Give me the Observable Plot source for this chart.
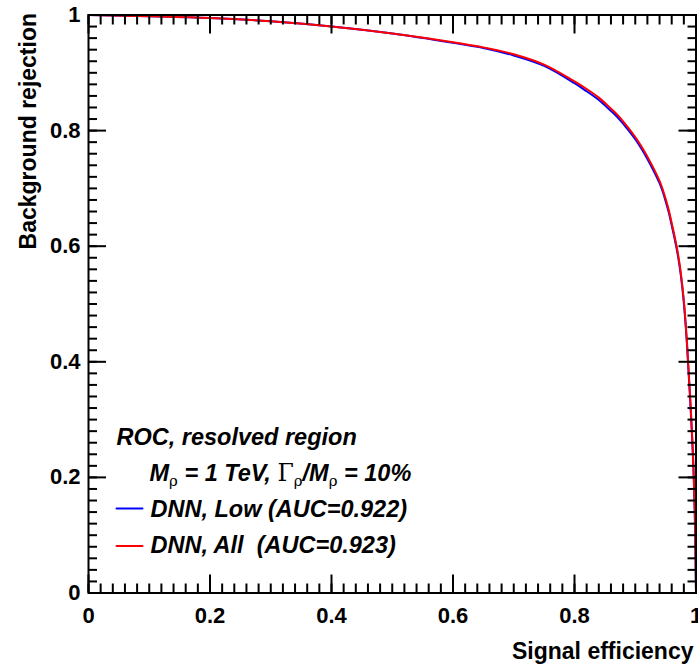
<!DOCTYPE html>
<html>
<head>
<meta charset="utf-8">
<script src="https://cdn.jsdelivr.net/npm/d3@7"></script>
<script src="https://cdn.jsdelivr.net/npm/@observablehq/plot@0.6"></script>
<style>
html, body { margin: 0; padding: 0; background: #ffffff; }
#chart { width: 698px; height: 665px; }
svg text { white-space: pre; }
</style>
</head>
<body>
<div id="chart"></div>
<script>
// ---- data ----
const efficiency   = [0, 0.1, 0.2, 0.3, 0.4, 0.5, 0.6, 0.65, 0.7, 0.75, 0.8, 0.82, 0.84, 0.86, 0.87, 0.88, 0.9, 0.91, 0.92, 0.93, 0.94, 0.945, 0.95, 0.955, 0.96, 0.965, 0.97, 0.975, 0.98, 0.985, 0.99, 0.995, 0.998, 1];
const rejectionLow = [1, 0.998, 0.995, 0.989, 0.980, 0.968, 0.952, 0.943, 0.930, 0.912, 0.882, 0.868, 0.853, 0.834, 0.824, 0.812, 0.785, 0.769, 0.751, 0.731, 0.709, 0.695, 0.678, 0.659, 0.636, 0.612, 0.585, 0.550, 0.502, 0.432, 0.342, 0.236, 0.136, 0];
const rejectionAll = [1, 0.998, 0.995, 0.989, 0.980, 0.968, 0.953, 0.944, 0.932, 0.914, 0.885, 0.872, 0.857, 0.838, 0.828, 0.816, 0.789, 0.773, 0.755, 0.735, 0.713, 0.699, 0.682, 0.663, 0.640, 0.616, 0.589, 0.554, 0.506, 0.436, 0.346, 0.240, 0.140, 0];
const seriesNames  = ["DNN, Low (AUC=0.922)", "DNN, All  (AUC=0.923)"];
const seriesColors = ["#0000ff", "#ff0000"];
const xMajorTicks  = [0, 0.2, 0.4, 0.6, 0.8, 1];
const yMajorTicks  = [0, 0.2, 0.4, 0.6, 0.8, 1];
const minorTicks   = d3.range(0, 51).map(i => i / 50);
const xTitle       = "Signal efficiency";
const yTitle       = "Background rejection";
const legendTitle  = "ROC, resolved region";
const legendSub    = "Mρ = 1 TeV, Γρ/Mρ = 10%";

// ---- table for Plot ----
const seriesValues = [rejectionLow, rejectionAll];
const rows = [];
seriesNames.forEach((name, i) => {
  efficiency.forEach((x, j) => rows.push({series: name, x, y: seriesValues[i][j]}));
});

const font = "'Liberation Sans', Arial, Helvetica, sans-serif";
const tickOnly = {fill: "none", stroke: "black", strokeWidth: 2, label: null};
const lineShape = {draw(context, l) { context.moveTo(0, 0); context.lineTo(0, -l); }};
const legendTextDy = [-83.5, -47.5];
const legendLineDy = [-84.5, -47];

const svg = Plot.plot({
  width: 698,
  height: 665,
  marginLeft: 88,
  marginRight: 2.5,
  marginTop: 14.5,
  marginBottom: 72.5,
  style: {fontFamily: font, color: "black", background: "white", overflow: "visible"},
  x: {domain: [0, 1]},
  y: {domain: [0, 1]},
  color: {domain: seriesNames, range: seriesColors},
  marks: [
    Plot.line(rows, {x: "x", y: "y", z: "series", stroke: "series", strokeWidth: 2, curve: "catmull-rom"}),
    // inward ticks on all four sides
    Plot.axisX(minorTicks,  {anchor: "bottom", tickSize: -9,  ...tickOnly}),
    Plot.axisX(xMajorTicks, {anchor: "bottom", tickSize: -18, ...tickOnly}),
    Plot.axisX(minorTicks,  {anchor: "top",    tickSize: -9,  ...tickOnly}),
    Plot.axisX(xMajorTicks, {anchor: "top",    tickSize: -18, ...tickOnly}),
    Plot.axisY(minorTicks,  {anchor: "left",   tickSize: -9,  ...tickOnly}),
    Plot.axisY(yMajorTicks, {anchor: "left",   tickSize: -18, ...tickOnly}),
    Plot.axisY(minorTicks,  {anchor: "right",  tickSize: -9,  ...tickOnly}),
    Plot.axisY(yMajorTicks, {anchor: "right",  tickSize: -18, ...tickOnly}),
    // tick labels
    Plot.axisX(xMajorTicks, {anchor: "bottom", tickSize: 0, tickPadding: 14, fontSize: 22, fontWeight: "bold", fill: "black", label: null, tickFormat: d3.format("")}),
    Plot.axisY(yMajorTicks, {anchor: "left", tickSize: 0, tickPadding: 8, fontSize: 22, fontWeight: "bold", fill: "black", label: null, tickFormat: d3.format("")}),
    Plot.frame({stroke: "black", strokeWidth: 2}),
    // axis titles
    Plot.text([xTitle], {text: d => d, frameAnchor: "bottom-right", textAnchor: "end", lineAnchor: "bottom", dx: -2.5, dy: 65.8, fontSize: 23, fontWeight: "bold", fill: "black"}),
    Plot.text([yTitle], {text: d => d, frameAnchor: "top-left", textAnchor: "end", lineAnchor: "bottom", rotate: -90, dx: -53, dy: -2, fontSize: 23, fontWeight: "bold", fill: "black"}),
    // legend
    Plot.text([legendTitle], {text: d => d, frameAnchor: "bottom-left", textAnchor: "start", lineAnchor: "middle", dx: 28, dy: -156, fontSize: 23.5, fontWeight: "bold", fontStyle: "italic", fill: "black"}),
    Plot.text([legendSub], {text: d => d, frameAnchor: "bottom-left", textAnchor: "start", lineAnchor: "middle", dx: 61, dy: -120, fontSize: 23.5, fontWeight: "bold", fontStyle: "italic", fill: "black"}),
    ...seriesNames.map((name, i) => Plot.vector([name], {frameAnchor: "bottom-left", dx: 28, dy: legendLineDy[i], length: 26, rotate: 90, anchor: "start", shape: lineShape, stroke: seriesColors[i], strokeWidth: 2})),
    ...seriesNames.map((name, i) => Plot.text([name], {text: d => d, frameAnchor: "bottom-left", textAnchor: "start", lineAnchor: "middle", dx: 62, dy: legendTextDy[i], fontSize: 23.5, fontWeight: "bold", fontStyle: "italic", fill: "black"}))
  ]
});

// rich text (sub-scripts, upright Greek) for the mass line of the legend
d3.select(svg).selectAll("text").filter(function () { return this.textContent === legendSub; }).each(function () {
  const t = d3.select(this);
  t.text(null);
  const parts = [
    ["M", "main"], ["ρ", "sub"], [" = 1 TeV, ", "main"], ["Γ", "greek"], ["ρ", "sub"],
    ["/M", "main"], ["ρ", "sub"], [" = 10%", "main"]
  ];
  let shifted = false;
  for (const [str, kind] of parts) {
    const s = t.append("tspan").text(str);
    if (kind === "sub") {
      s.attr("font-size", 15).attr("font-weight", "normal").attr("font-style", "normal").attr("dy", 5).attr("font-family", "'DejaVu Serif', serif");
      shifted = true;
    } else {
      if (shifted) { s.attr("dy", -5); shifted = false; }
      if (kind === "greek") s.attr("font-weight", "normal").attr("font-style", "normal").attr("font-family", "'DejaVu Serif', 'Liberation Serif', serif");
    }
  }
});

document.getElementById("chart").appendChild(svg);
</script>
</body>
</html>
